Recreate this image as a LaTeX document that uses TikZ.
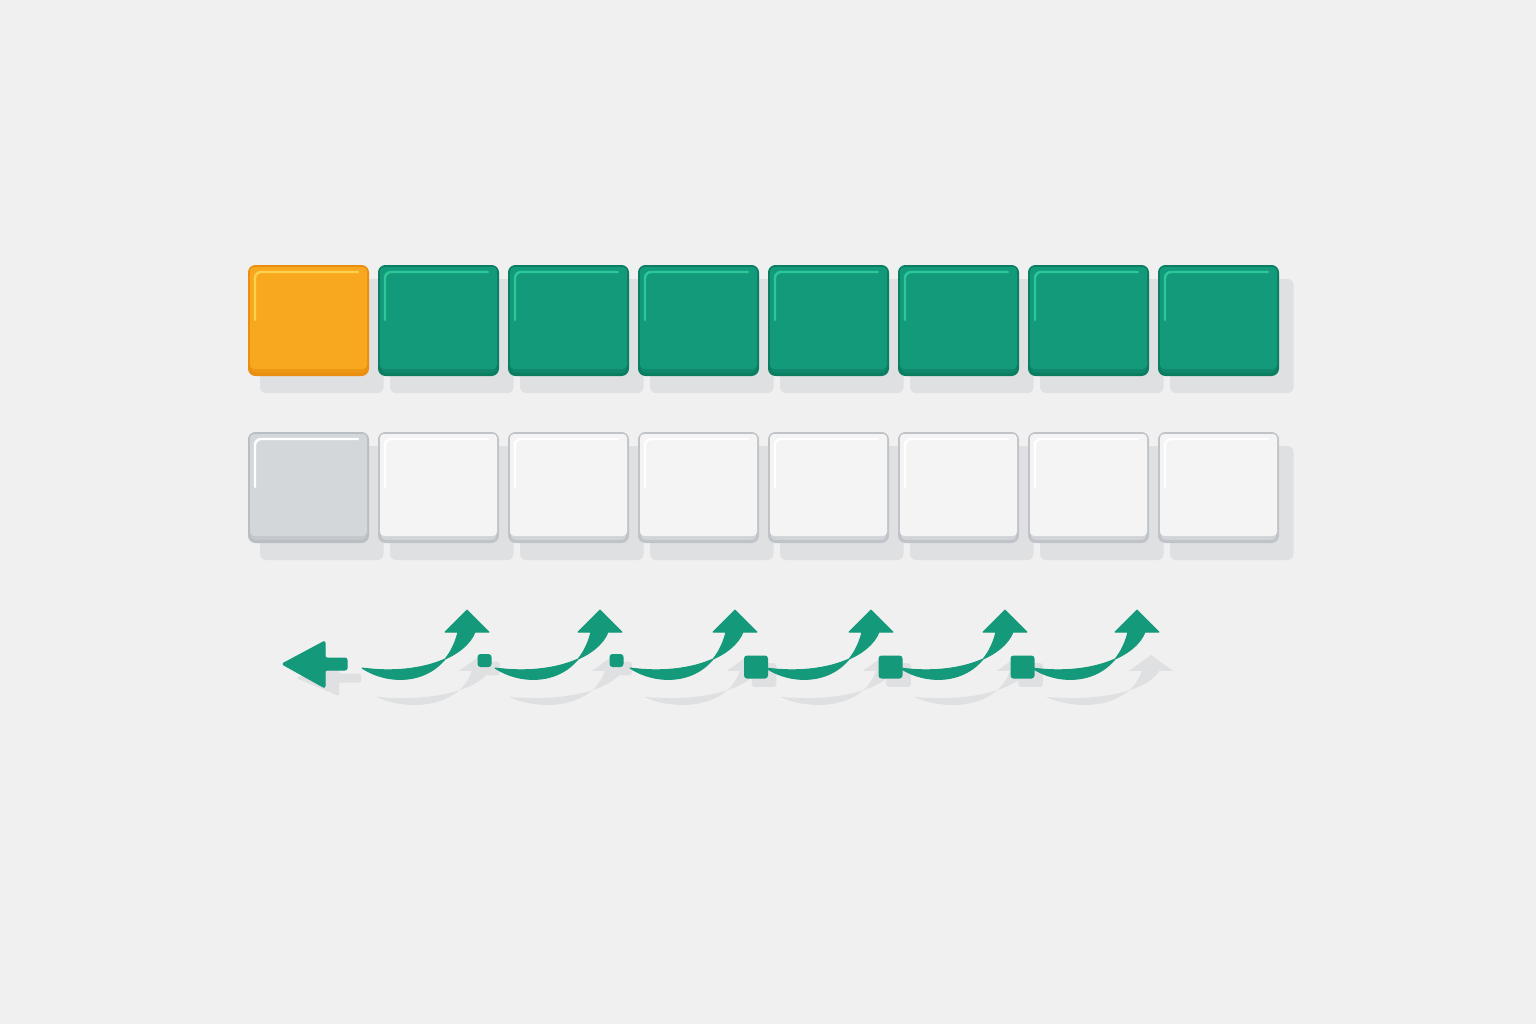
\documentclass[tikz,border=0pt]{standalone}
\usetikzlibrary{calc}
\definecolor{bgc}{HTML}{F0F0F0}
\definecolor{shadowc}{HTML}{DFE0E2}
\definecolor{orfill}{HTML}{F8A81F}
\definecolor{orline}{HTML}{E98E10}
\definecolor{orband}{HTML}{EC9614}
\definecolor{orhl}{HTML}{FDD24C}
\definecolor{grfill}{HTML}{139A7A}
\definecolor{grline}{HTML}{0B7D61}
\definecolor{grband}{HTML}{0E876A}
\definecolor{grhl}{HTML}{2CC89A}
\definecolor{gyfill}{HTML}{D3D7DA}
\definecolor{gyline}{HTML}{B9BEC3}
\definecolor{gyband}{HTML}{C3C8CC}
\definecolor{whfill}{HTML}{F4F4F5}
\definecolor{whline}{HTML}{C0C4C8}
\definecolor{whband}{HTML}{D0D3D7}
\definecolor{arr}{HTML}{14997A}
\pgfdeclarelayer{back}
\pgfdeclarelayer{shadow}
\pgfsetlayers{back,shadow,main}
\newcommand\tiledecor[3]{%
  \begin{pgfonlayer}{shadow}
    \fill[shadowc, rounded corners=3pt] ([shift={(12,14)}]#1.north west) rectangle ([shift={(14.5,17)}]#1.south east);
  \end{pgfonlayer}
  \fill[#2, rounded corners=2pt] ([shift={(2,2)}]#1.north west) rectangle ([shift={(-2,-7)}]#1.south east);
  \draw[#3, line width=1.2pt, line cap=round, rounded corners=3pt] ([shift={(7,55)}]#1.north west) |- ([shift={(-11,7)}]#1.north east);
}
\tikzset{
  tile/.style={rounded corners=3pt, minimum width=59pt, minimum height=54pt, line width=1.5pt, inner sep=0pt},
  dotsq/.style={fill=arr, rounded corners=1.5pt, inner sep=0pt},
  curarrow/.pic={
    \path[pic actions] (-105,58) .. controls (-75,78) and (-22,75) .. (-9,22)
      -- (-22,22) -- (0,0) -- (22,22) -- (8,22)
      .. controls (-1,46) and (-45,66) .. (-105,58) -- cycle;
  },
  leftarrow/.pic={
    \path[pic actions, rounded corners=1pt] (0,0) -- (43,-23) -- (43,-6) -- (65,-6) -- (65,6) -- (43,6) -- (43,24) -- cycle;
  }
}
\begin{document}
\begin{tikzpicture}[x=0.5pt,y=-0.5pt]
\begin{pgfonlayer}{back}\fill[bgc] (0,0) rectangle (1536,1024);\end{pgfonlayer}
\useasboundingbox (0,0) rectangle (1536,1024);

% top row
\node[tile, fill=orband, draw=orline] (t0) at (308.5,320.5) {};
\tiledecor{t0}{orfill}{orhl}
\foreach \i in {1,...,7} {
  \node[tile, fill=grband, draw=grline] (t\i) at (308.5+130*\i,320.5) {};
  \tiledecor{t\i}{grfill}{grhl}
}

% bottom row
\node[tile, fill=gyband, draw=gyline] (b0) at (308.5,487.5) {};
\tiledecor{b0}{gyfill}{white}
\foreach \i in {1,...,7} {
  \node[tile, fill=whband, draw=whline] (b\i) at (308.5+130*\i,487.5) {};
  \tiledecor{b\i}{whfill}{white}
}

% arrows row
\begin{pgfonlayer}{shadow}
  \pic[fill=shadowc, yscale=0.75] at (296,678) {leftarrow};
  \foreach \ax in {467,600,735,871,1005,1137} {
    \pic[fill=shadowc, yscale=0.72] at (\ax+14,655) {curarrow};
  }
\end{pgfonlayer}
\pic[fill=arr, draw=arr, line width=0.5pt, line join=round] at (282,664) {leftarrow};
\foreach \ax in {467,600,735,871,1005,1137} {
  \pic[fill=arr, draw=arr, line width=0.5pt, line join=round] at (\ax,610) {curarrow};
}

% separator squares
\node[dotsq, minimum width=7pt, minimum height=6.5pt] (s1) at (484.5,660.5) {};
\node[dotsq, minimum width=7pt, minimum height=6.5pt] (s2) at (616.5,660.5) {};
\node[dotsq, minimum width=12pt, minimum height=11.5pt] (s3) at (756,667) {};
\node[dotsq, minimum width=12pt, minimum height=11.5pt] (s4) at (890.5,667) {};
\node[dotsq, minimum width=12pt, minimum height=11.5pt] (s5) at (1022.5,667) {};
\begin{pgfonlayer}{shadow}
  \foreach \s in {s1,s2,s3,s4,s5} {
    \fill[shadowc, rounded corners=1.5pt] ([shift={(8,8)}]\s.north west) rectangle ([shift={(8,8)}]\s.south east);
  }
\end{pgfonlayer}
\end{tikzpicture}
\end{document}
